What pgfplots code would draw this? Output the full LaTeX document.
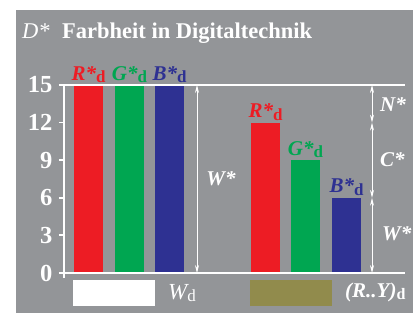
\documentclass[border=0pt]{standalone}
\usepackage{fontspec}
\setmainfont{Liberation Serif}
\usepackage{pgfplots}
\pgfplotsset{compat=1.18}
\usetikzlibrary{arrows.meta}
\definecolor{bg}{HTML}{939598}
\definecolor{cR}{HTML}{ED1C24}
\definecolor{cG}{HTML}{00A651}
\definecolor{cB}{HTML}{2E3192}
\definecolor{cO}{HTML}{918B4C}
\newcommand{\lab}[1]{{\fontsize{21}{21}\selectfont\bfseries\itshape #1*}\raisebox{-0.25em}{\fontsize{17}{17}\selectfont\bfseries d}}
\newcommand{\bigit}[1]{{\fontsize{21}{21}\selectfont\bfseries\itshape #1}}
\begin{document}
\begin{tikzpicture}
\path[fill=white] (0,0) rectangle (413pt,-315pt);
\path[fill=bg] (16pt,-10pt) rectangle (413pt,-313pt);
\node[anchor=base west, white, inner sep=0pt, font=\fontsize{22.5}{22.5}\selectfont\itshape] at (22pt,-39pt) {D*};
\node[anchor=base west, white, inner sep=0pt, font=\fontsize{22.5}{22.5}\selectfont\bfseries] at (62pt,-39pt) {Farbheit in Digitaltechnik};
\begin{axis}[at={(64pt,-273pt)}, anchor=south west, scale only axis,
  width=341pt, height=188pt, xmin=64, xmax=405, ymin=0, ymax=15, clip=false,
  axis x line*=bottom, axis y line*=left, axis line style={draw=none},
  xtick=\empty, ytick={0,3,...,15}, tick align=outside, major tick length=5pt,
  every tick/.style={white, line width=1.8pt},
  yticklabel style={text=white, font=\fontsize{24.5}{24.5}\selectfont\bfseries, xshift=-3pt},
  /pgf/number format/assume math mode=true,
  bars/.style={ybar, bar width=29, bar shift=0pt, draw=none},
  every node near coord/.append style={anchor=south, yshift=1pt, inner sep=1pt}]
\addplot[bars, fill=cR, nodes near coords={\textcolor{cR}{\lab{R}}}] coordinates {(88.5,15)};
\addplot[bars, fill=cG, nodes near coords={\textcolor{cG}{\lab{G}}}] coordinates {(129.5,15)};
\addplot[bars, fill=cB, nodes near coords={\textcolor{cB}{\lab{B}}}] coordinates {(169.5,15)};
\addplot[bars, fill=cR, nodes near coords={\textcolor{cR}{\lab{R}}}] coordinates {(265.5,12)};
\addplot[bars, fill=cG, nodes near coords={\textcolor{cG}{\lab{G}}}] coordinates {(305.5,9)};
\addplot[bars, fill=cB, nodes near coords={\textcolor{cB}{\lab{B}}}] coordinates {(346.5,6)};
\draw[white, line width=2.4pt] (axis cs:59,0) -- (axis cs:405,0);
\draw[white, line width=2.4pt] (axis cs:64,-0.4) -- (axis cs:64,15);
\draw[white, line width=2pt] (axis cs:60,15) -- (axis cs:405,15);
\draw[white, line width=0.8pt, {Stealth[length=8pt,width=4pt]}-{Stealth[length=8pt,width=4pt]}] (axis cs:197,0) -- (axis cs:197,15);
\draw[white, line width=0.8pt, {Stealth[length=8pt,width=4pt]}-{Stealth[length=8pt,width=4pt]}] (axis cs:372,0) -- (axis cs:372,6);
\draw[white, line width=0.8pt, {Stealth[length=8pt,width=4pt]}-{Stealth[length=8pt,width=4pt]}] (axis cs:372,6) -- (axis cs:372,12);
\draw[white, line width=0.8pt, {Stealth[length=8pt,width=4pt]}-{Stealth[length=8pt,width=4pt]}] (axis cs:372,12) -- (axis cs:372,15);
\end{axis}
\node[white, inner sep=0pt] at (221pt,-179pt) {\bigit{W*}};
\node[anchor=west, white, inner sep=0pt] at (380pt,-105pt) {\bigit{N*}};
\node[anchor=west, white, inner sep=0pt] at (380pt,-160pt) {\bigit{C*}};
\node[anchor=west, white, inner sep=0pt] at (382pt,-234pt) {\bigit{W*}};
\fill[white] (73pt,-280pt) rectangle (155pt,-306pt);
\fill[cO] (250pt,-280pt) rectangle (332pt,-306pt);
\node[anchor=west, white, inner sep=0pt] at (168pt,-293pt) {{\fontsize{23}{23}\selectfont\itshape W}\raisebox{-0.25em}{\fontsize{17}{17}\selectfont d}};
\node[anchor=west, white, inner sep=0pt] at (345pt,-292pt) {\bigit{(R..Y)}\raisebox{-0.25em}{\fontsize{16}{16}\selectfont\bfseries d}};
\end{tikzpicture}
\end{document}
